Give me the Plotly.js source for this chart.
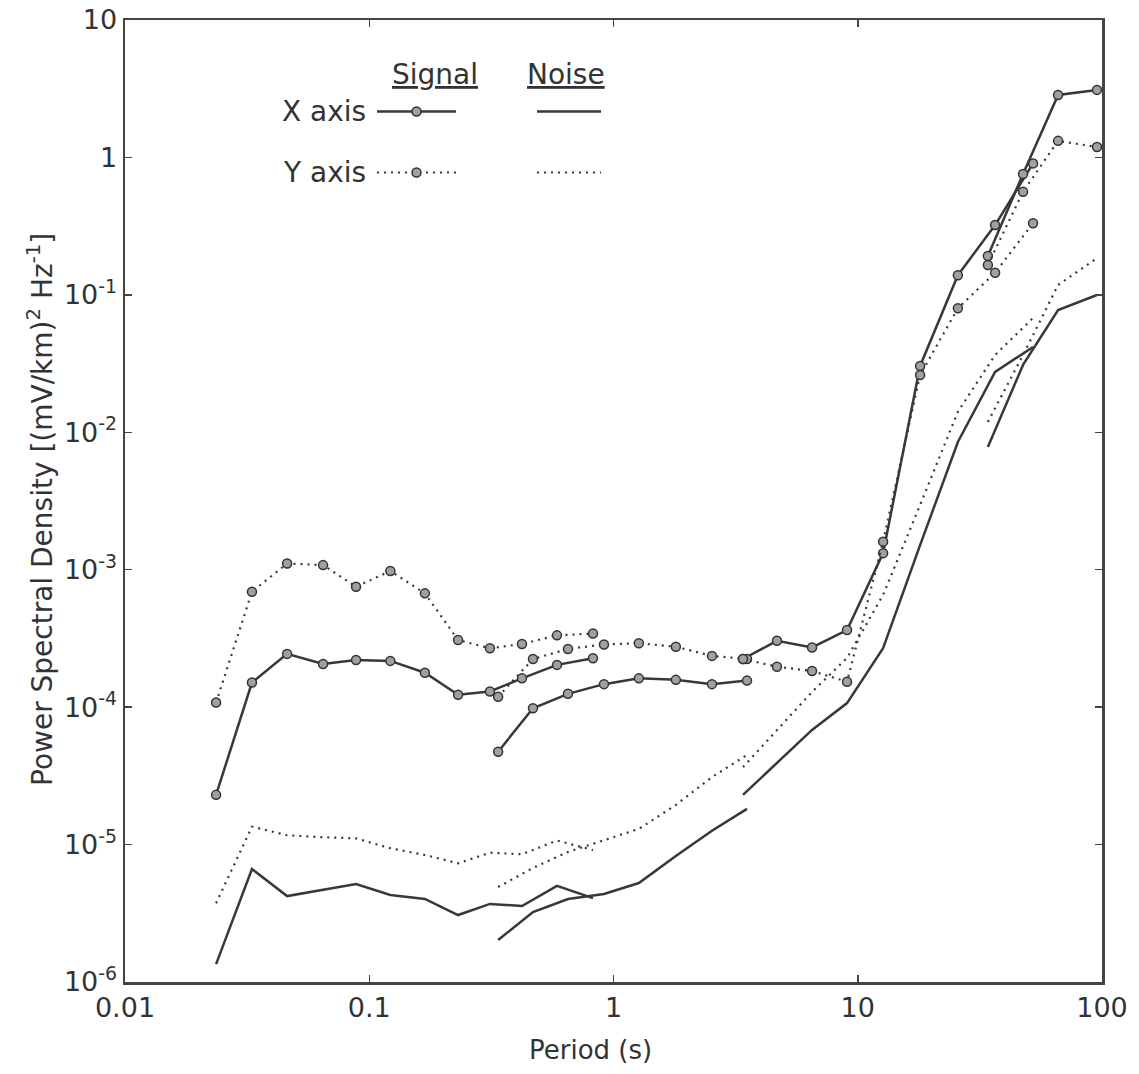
<!DOCTYPE html>
<html>
<head>
<meta charset="utf-8">
<script src="https://cdn.plot.ly/plotly-3.0.1.min.js"></script>
<style>html,body{margin:0;padding:0;background:#fff;}#chart{width:1139px;height:1074px;}</style>
</head>
<body>
<div id="chart"></div>
<script>
// Periods (s) of each analysis band
const periodsB1 = [0.0236, 0.0331, 0.0461, 0.0647, 0.0883, 0.122, 0.169, 0.231, 0.312, 0.422, 0.587, 0.824];
const periodsB2 = [0.337, 0.468, 0.651, 0.914, 1.27, 1.80, 2.53, 3.52];
const periodsB3 = [3.39, 4.67, 6.50, 9.04, 12.7, 18.0, 25.7, 36.5, 52.2];
const periodsB4 = [34.1, 47.5, 66.1, 95.4];

// Signal PSD
const signalX_B1 = [2.30e-5, 1.51e-4, 2.44e-4, 2.06e-4, 2.20e-4, 2.17e-4, 1.78e-4, 1.23e-4, 1.30e-4, 1.62e-4, 2.03e-4, 2.27e-4];
const signalY_B1 = [1.08e-4, 6.92e-4, 1.11e-3, 1.08e-3, 7.52e-4, 9.79e-4, 6.73e-4, 3.08e-4, 2.68e-4, 2.88e-4, 3.33e-4, 3.43e-4];
const signalX_B2 = [4.74e-5, 9.82e-5, 1.25e-4, 1.47e-4, 1.62e-4, 1.58e-4, 1.47e-4, 1.56e-4];
const signalY_B2 = [1.19e-4, 2.24e-4, 2.65e-4, 2.86e-4, 2.92e-4, 2.75e-4, 2.36e-4, 2.24e-4];
const signalX_B3 = [2.24e-4, 3.04e-4, 2.72e-4, 3.64e-4, 1.32e-3, 3.04e-2, 0.139, 0.322, 0.905];
const signalY_B3 = [2.24e-4, 1.97e-4, 1.83e-4, 1.53e-4, 1.60e-3, 2.61e-2, 7.98e-2, 0.145, 0.332];
const signalX_B4 = [0.192, 0.757, 2.85, 3.10];
const signalY_B4 = [0.165, 0.563, 1.32, 1.19];

// Noise PSD
const noiseX_B1 = [1.35e-6, 6.64e-6, 4.22e-6, 4.67e-6, 5.17e-6, 4.30e-6, 4.02e-6, 3.07e-6, 3.70e-6, 3.57e-6, 5.00e-6, 4.08e-6];
const noiseY_B1 = [3.74e-6, 1.35e-5, 1.17e-5, 1.13e-5, 1.11e-5, 9.40e-6, 8.40e-6, 7.31e-6, 8.73e-6, 8.50e-6, 1.07e-5, 9.12e-6];
const noiseX_B2 = [2.02e-6, 3.23e-6, 4.02e-6, 4.37e-6, 5.25e-6, 8.26e-6, 1.26e-5, 1.82e-5];
const noiseY_B2 = [4.91e-6, 6.76e-6, 8.84e-6, 1.08e-5, 1.30e-5, 1.94e-5, 3.10e-5, 4.49e-5];
const noiseX_B3 = [2.30e-5, 3.93e-5, 6.83e-5, 1.07e-4, 2.69e-4, 1.51e-3, 8.50e-3, 2.75e-2, 4.18e-2];
const noiseY_B3 = [3.66e-5, 6.83e-5, 1.29e-4, 2.28e-4, 6.55e-4, 2.96e-3, 1.41e-2, 3.65e-2, 6.79e-2];
const noiseX_B4 = [7.82e-3, 3.09e-2, 7.76e-2, 9.98e-2];
const noiseY_B4 = [1.19e-2, 3.65e-2, 0.118, 0.185];

// Tick labels
const xTickVals = [0.01, 0.1, 1, 10, 100];
const xTickText = ["0.01", "0.1", "1", "10", "100"];
const yTickVals = [1e-6, 1e-5, 1e-4, 1e-3, 1e-2, 1e-1, 1, 10];
const yTickText = ["10<sup>-6</sup>", "10<sup>-5</sup>", "10<sup>-4</sup>", "10<sup>-3</sup>", "10<sup>-2</sup>", "10<sup>-1</sup>", "1", "10"];

const INK = "#383838";
const DOT = "2px,5px";
const marker = {symbol: "circle", size: 9, color: "#a0a0a0", line: {color: "#333", width: 1.5}};

const bands = [periodsB1, periodsB2, periodsB3, periodsB4];
const sigX = [signalX_B1, signalX_B2, signalX_B3, signalX_B4];
const sigY = [signalY_B1, signalY_B2, signalY_B3, signalY_B4];
const nX = [noiseX_B1, noiseX_B2, noiseX_B3, noiseX_B4];
const nY = [noiseY_B1, noiseY_B2, noiseY_B3, noiseY_B4];

const traces = [];
bands.forEach((p, i) => {
  traces.push({x: p, y: sigX[i], mode: "lines+markers", name: "", legend: "legend", legendgroup: "sx",
    showlegend: i === 0, line: {color: INK, width: 2.5}, marker: marker, hoverinfo: "x+y"});
});
bands.forEach((p, i) => {
  traces.push({x: p, y: sigY[i], mode: "lines+markers", name: "", legend: "legend", legendgroup: "sy",
    showlegend: i === 0, line: {color: INK, width: 2.2, dash: DOT}, marker: marker, hoverinfo: "x+y"});
});
bands.forEach((p, i) => {
  traces.push({x: p, y: nX[i], mode: "lines", name: "", legend: "legend2", legendgroup: "nx",
    showlegend: i === 0, line: {color: INK, width: 2.5}, hoverinfo: "x+y"});
});
bands.forEach((p, i) => {
  traces.push({x: p, y: nY[i], mode: "lines", name: "", legend: "legend2", legendgroup: "ny",
    showlegend: i === 0, line: {color: INK, width: 2.2, dash: DOT}, hoverinfo: "x+y"});
});

const FONT = "DejaVu Sans, sans-serif";
const W = 977, H = 962, L = 125, T = 20;
const px = v => (v - L) / W;
const py = v => 1 - (v - T) / H;

const legendCommon = {
  orientation: "v", traceorder: "grouped", tracegroupgap: 32, bgcolor: "rgba(0,0,0,0)",
  font: {family: FONT, size: 20, color: "#333"}, xanchor: "left", yanchor: "top",
  itemclick: false, itemdoubleclick: false
};

const txt = (text, x, y, size, extra) => Object.assign({
  text: text, x: px(x), y: py(y), xref: "paper", yref: "paper", showarrow: false,
  xanchor: "center", yanchor: "middle", font: {family: FONT, size: size, color: "#333"}
}, extra || {});

const layout = {
  width: 1139, height: 1074,
  margin: {l: L, r: 1139 - L - W, t: T, b: 1074 - T - H},
  paper_bgcolor: "#fff", plot_bgcolor: "#fff",
  font: {family: FONT, color: "#333"},
  showlegend: true,
  legend: Object.assign({}, legendCommon, {x: px(372), y: py(92), itemwidth: 79}),
  legend2: Object.assign({}, legendCommon, {x: px(532), y: py(92), itemwidth: 64}),
  xaxis: {
    type: "log", range: [-2, 2], tickvals: xTickVals, ticktext: xTickText,
    ticks: "inside", ticklen: 7, tickwidth: 1.5, tickcolor: "#444",
    showline: true, linecolor: "#444", linewidth: 2.5, mirror: "ticks",
    showgrid: false, zeroline: false,
    tickfont: {family: FONT, size: 27, color: "#333"}
  },
  yaxis: {
    type: "log", range: [-6, 1], tickvals: yTickVals, ticktext: yTickText,
    ticks: "inside", ticklen: 7, tickwidth: 1.5, tickcolor: "#444",
    showline: true, linecolor: "#444", linewidth: 2.5, mirror: "ticks",
    showgrid: false, zeroline: false,
    tickfont: {family: FONT, size: 27, color: "#333"}
  },
  annotations: [
    txt("Period (s)", 590, 1050, 26),
    txt("Power Spectral Density [(mV/km)<sup>2</sup> Hz<sup>-1</sup>]", 40, 510, 28, {textangle: -90}),
    txt("<u>Signal</u>", 435, 74, 28),
    txt("<u>Noise</u>", 566, 74, 28),
    txt("X axis", 368, 111, 28, {xanchor: "right"}),
    txt("Y axis", 368, 172, 28, {xanchor: "right"})
  ]
};

Plotly.newPlot("chart", traces, layout, {displayModeBar: false, staticPlot: true});
</script>
</body>
</html>
